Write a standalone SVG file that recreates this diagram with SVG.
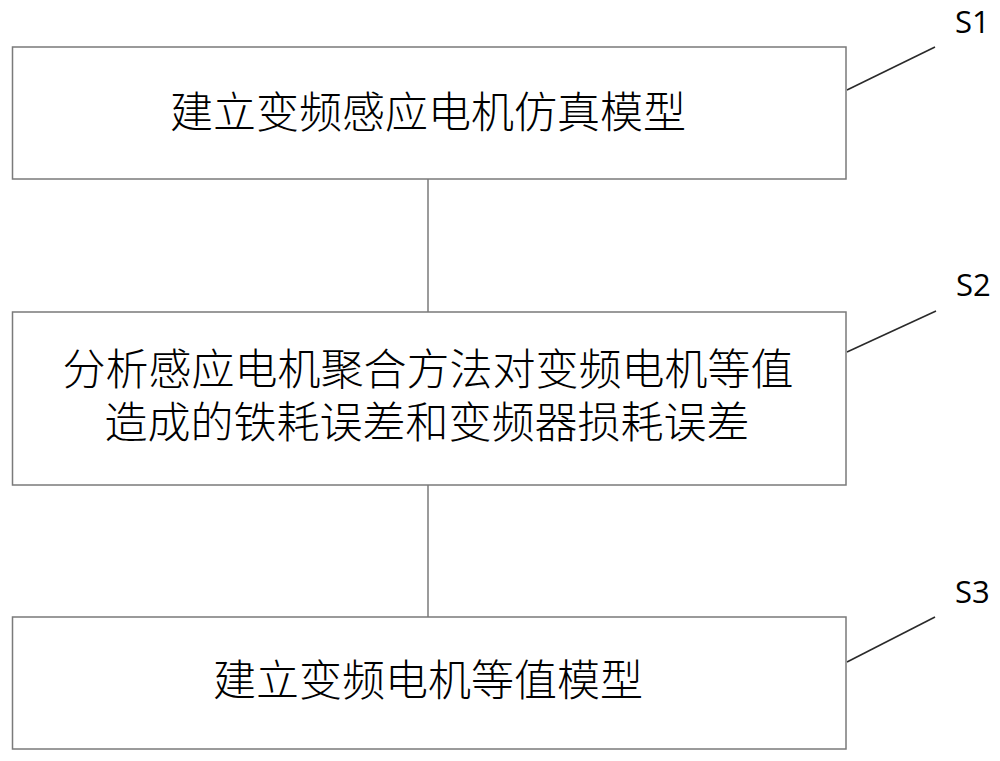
<svg xmlns="http://www.w3.org/2000/svg" width="1000" height="761" viewBox="0 0 1000 761">
<style>
.box{fill:#fff;stroke:#7a7a7a;stroke-width:1.5}
.conn{stroke:#7a7a7a;stroke-width:1.5;fill:none}
.lead{stroke:#2a2a2a;stroke-width:1.6;fill:none}
.cn{font-family:"Liberation Sans","Noto Sans CJK SC",sans-serif;font-size:43px;font-weight:300;fill:#000;text-anchor:middle}
.lab{font-family:"Open Sans","Liberation Sans",sans-serif;font-size:31px;fill:#000}
</style>
<rect width="1000" height="761" fill="#fff"/>
<g id="connectors">
<line class="conn" x1="428" y1="179" x2="428" y2="312"/>
<line class="conn" x1="428" y1="485" x2="428" y2="617"/>
<line class="lead" x1="847" y1="90" x2="935" y2="47"/>
<line class="lead" x1="847" y1="352" x2="936" y2="311"/>
<line class="lead" x1="847" y1="662" x2="935" y2="617"/>
</g>
<g id="S1">
<rect class="box" x="12.5" y="47" width="833.5" height="132"/>
<text class="cn" x="428" y="128">建立变频感应电机仿真模型</text>
<text class="lab" x="955" y="33">S1</text>
</g>
<g id="S2">
<rect class="box" x="12.5" y="312" width="833.5" height="173"/>
<text class="cn"><tspan x="428" y="385">分析感应电机聚合方法对变频电机等值</tspan><tspan x="427" y="438">造成的铁耗误差和变频器损耗误差</tspan></text>
<text class="lab" x="956" y="296">S2</text>
</g>
<g id="S3">
<rect class="box" x="12.5" y="617" width="833.5" height="132"/>
<text class="cn" x="428" y="696">建立变频电机等值模型</text>
<text class="lab" x="955" y="603">S3</text>
</g>
</svg>
